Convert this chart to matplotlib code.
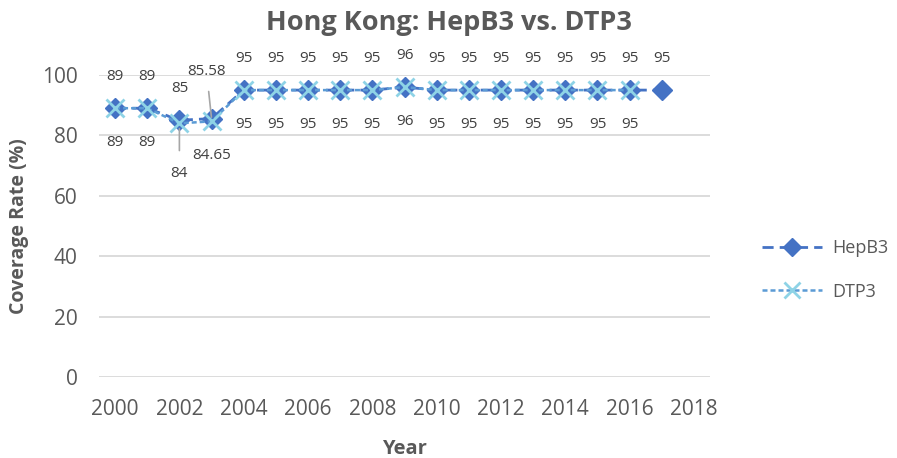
import matplotlib
matplotlib.use("Agg")
import matplotlib.pyplot as plt

years_hepb3 = [2000, 2001, 2002, 2003, 2004, 2005, 2006, 2007, 2008, 2009,
               2010, 2011, 2012, 2013, 2014, 2015, 2016, 2017]
hepb3 = [89, 89, 85, 85.58, 95, 95, 95, 95, 95, 96, 95, 95, 95, 95, 95, 95, 95, 95]
years_dtp3 = [2000, 2001, 2002, 2003, 2004, 2005, 2006, 2007, 2008, 2009,
              2010, 2011, 2012, 2013, 2014, 2015, 2016]
dtp3 = [89, 89, 84, 84.65, 95, 95, 95, 95, 95, 96, 95, 95, 95, 95, 95, 95, 95]
x_ticks = [2000, 2002, 2004, 2006, 2008, 2010, 2012, 2014, 2016, 2018]
y_ticks = [0, 20, 40, 60, 80, 100]

plt.rcParams['font.family'] = ['Open Sans', 'DejaVu Sans']
TXT = '#595959'
LBL = '#404040'
C_HEP = '#4472C4'
C_DTP_LINE = '#5B9BD5'
C_DTP_MK = '#8ED3E6'

fig = plt.figure(figsize=(8.97, 4.58), dpi=100)
ax = fig.add_axes([99/897, 1-377/458, (710-99)/897, (377-75)/458])

ax.plot(years_hepb3, hepb3, color=C_HEP, lw=2.0, dashes=(4, 2.2),
        marker='D', ms=10.5, mfc=C_HEP, mec=C_HEP, zorder=3, label='HepB3')
ax.plot(years_dtp3, dtp3, color=C_DTP_LINE, lw=1.8, dashes=(2, 1.2),
        marker='x', ms=13.5, mew=2, mec=C_DTP_MK, zorder=4, label='DTP3')

def fmt(v):
    return ('%g' % v)

LFS = 11
for x, v in zip(years_hepb3, hepb3):
    if x == 2003:
        ax.annotate(fmt(v), (x, v), xytext=(-5, 47), textcoords='offset pixels',
                    ha='center', va='center', fontsize=LFS, color=LBL,
                    arrowprops=dict(arrowstyle='-', color='#A6A6A6', lw=1.2,
                                    shrinkA=7, shrinkB=1))
    else:
        ax.annotate(fmt(v), (x, v), xytext=(0, 32), textcoords='offset pixels',
                    ha='center', va='center', fontsize=LFS, color=LBL)
for x, v in zip(years_dtp3, dtp3):
    if x == 2002:
        ax.annotate(fmt(v), (x, v), xytext=(0, -50), textcoords='offset pixels',
                    ha='center', va='center', fontsize=LFS, color=LBL,
                    arrowprops=dict(arrowstyle='-', color='#A6A6A6', lw=1.2,
                                    shrinkA=9, shrinkB=4))
    else:
        ax.annotate(fmt(v), (x, v), xytext=(0, -34), textcoords='offset pixels',
                    ha='center', va='center', fontsize=LFS, color=LBL)

ax.set_xlim(1999.5, 2018.5)
ax.set_ylim(0, 100)
ax.set_xticks(x_ticks)
ax.set_yticks(y_ticks)
ax.tick_params(axis='both', length=0, labelsize=15, labelcolor=TXT)
ax.tick_params(axis='x', pad=15.5)
ax.tick_params(axis='y', pad=15.5)
for s in ax.spines.values():
    s.set_visible(False)
ax.grid(axis='y', color='#D9D9D9', lw=1.3)
ax.set_axisbelow(True)

ax.set_xlabel('Year', fontsize=14.5, fontweight='bold', color=TXT, labelpad=14)
ax.set_ylabel('Coverage Rate (%)', fontsize=14, fontweight='bold', color=TXT, labelpad=9)
fig.text(0.5, 1-23/458, 'Hong Kong: HepB3 vs. DTP3', ha='center', va='center',
         fontsize=19.5, fontweight='bold', color=TXT)

leg = fig.legend(loc='center left', bbox_to_anchor=(746/897, 1-270/458),
                 frameon=False, fontsize=13, handlelength=3.3, labelspacing=1.4,
                 handletextpad=0.55, labelcolor=TXT, markerscale=0.85)

fig.savefig('out.png', dpi=100)
